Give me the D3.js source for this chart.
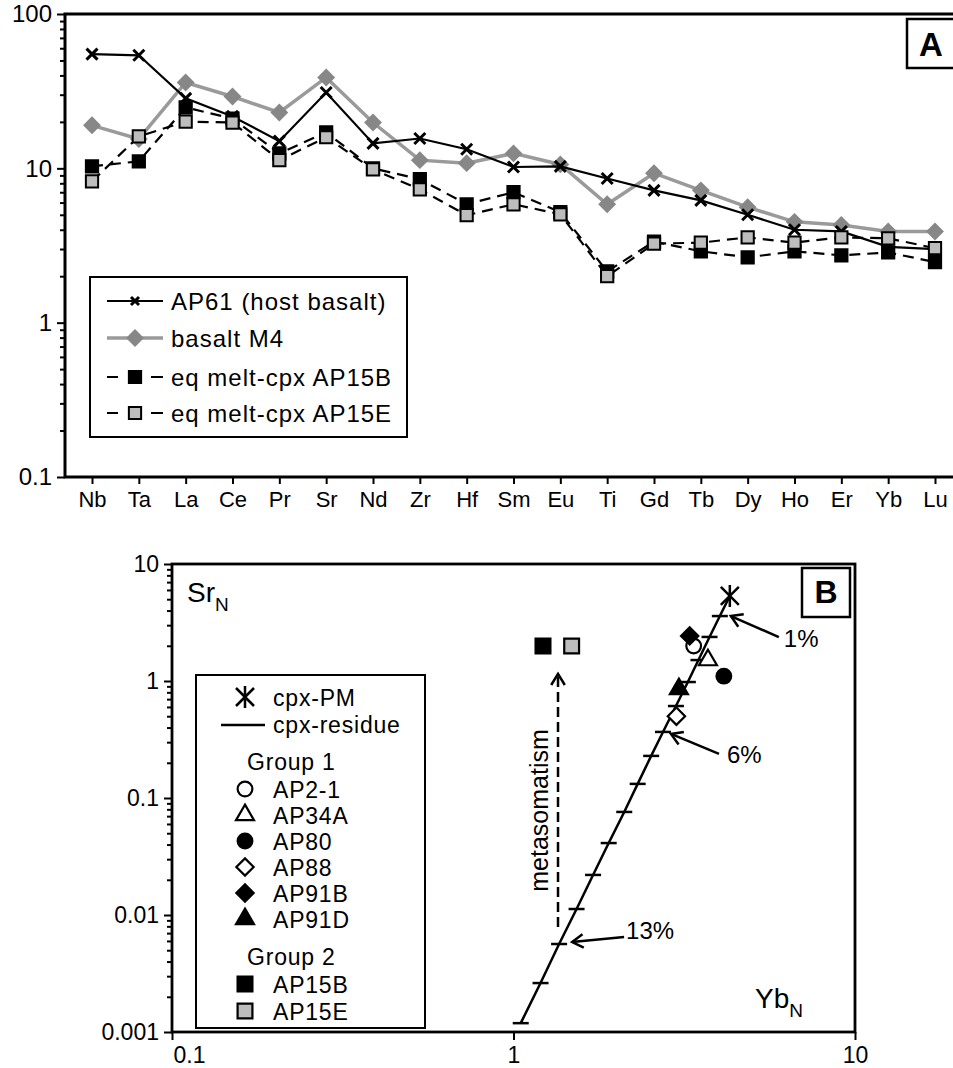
<html>
<script src="https://d3js.org/d3.v7.min.js"></script>
<style>
body {margin: 0; background: #fff;}
svg text {font-family: "Liberation Sans", Arial, sans-serif; fill: #000;}
</style>
<body>
<svg id="chart" width="953" height="1068"></svg>
<script>
//panel A data (normalised concentrations)
var elements = ["Nb","Ta","La","Ce","Pr","Sr","Nd","Zr","Hf","Sm","Eu","Ti","Gd","Tb","Dy","Ho","Er","Yb","Lu"];
var ap61     = [55, 54, 28.4, 21.7, 15, 31, 14.5, 15.6, 13.3, 10.2, 10.3, 8.6, 7.2, 6.2, 5.0, 4.0, 3.9, 3.1, 3.0];
var basaltM4 = [19, 15.5, 36, 29.2, 23, 38.8, 19.8, 11.3, 10.8, 12.5, 10.6, 5.85, 9.3, 7.2, 5.6, 4.5, 4.3, 3.9, 3.9];
var ap15b    = [10.3, 11.1, 24.8, 21, 12.5, 17.1, 10, 8.5, 5.85, 7.0, 5.2, 2.15, 3.35, 2.9, 2.65, 2.9, 2.73, 2.85, 2.47];
var ap15e    = [8.24, 16.1, 20.1, 19.8, 11.3, 15.9, 9.85, 7.3, 4.97, 5.85, 5.04, 2.0, 3.25, 3.3, 3.57, 3.3, 3.57, 3.52, 3.04];
var seriesNamesA = ["AP61 (host basalt)", "basalt M4", "eq melt-cpx AP15B", "eq melt-cpx AP15E"];
var yTicksA = [0.1, 1, 10, 100];

//panel B data
var cpxPM = {yb: 4.30, sr: 5.33};
var residueF  = [0, 1, 2, 3, 4, 5, 6, 7, 8, 9, 10, 11, 12, 13, 14, 15];
var residueYb = [4.30, 4.02, 3.75, 3.48, 3.24, 2.99, 2.74, 2.53, 2.31, 2.11, 1.90, 1.71, 1.53, 1.36, 1.20, 1.05];
var residueSr = [5.33, 3.59, 2.38, 1.51, 0.98, 0.611, 0.367, 0.229, 0.132, 0.076, 0.0412, 0.022, 0.01125, 0.00565, 0.00262, 0.00119];
var samples   = ["AP2-1", "AP34A", "AP80", "AP88", "AP91B", "AP91D", "AP15B", "AP15E"];
var sampleYb  = [3.37, 3.71, 4.13, 3.0, 3.28, 3.05, 1.22, 1.48];
var sampleSr  = [1.99, 1.51, 1.10, 0.50, 2.43, 0.855, 1.99, 1.99];
var sampleGroup = [1, 1, 1, 1, 1, 1, 2, 2];
var meltLabels = ["1%", "6%", "13%"];
var meltSteps  = [1, 6, 13];
var metaYb = 1.35, metaSr = [0.0079, 1.15];
var xTicksB = [0.1, 1, 10];
var yTicksB = [0.001, 0.01, 0.1, 1, 10];

var svg = d3.select("#chart");

function minorTicks(majors) {
    var out = [];
    majors.slice(0, -1).forEach(function(m) {
        for (var k = 2; k < 10; k++) out.push(m * k);
    });
    return out;
}

function arrow(g, x1, y1, x2, y2, dash) {
    var a = Math.atan2(y2 - y1, x2 - x1), h = 13, s = 0.55;
    g.append("line").attr("x1", x1).attr("y1", y1).attr("x2", x2).attr("y2", y2)
        .attr("stroke", "black").attr("stroke-width", 2.5)
        .attr("stroke-dasharray", dash || null);
    g.append("path")
        .attr("d", "M" + (x2 - h * Math.cos(a - s)) + "," + (y2 - h * Math.sin(a - s)) +
            "L" + x2 + "," + y2 + "L" + (x2 - h * Math.cos(a + s)) + "," + (y2 - h * Math.sin(a + s)))
        .attr("fill", "none").attr("stroke", "black").attr("stroke-width", 2.5);
}

// marker shapes
var shapes = {
    circle:   d3.symbol().type(d3.symbolCircle).size(170)(),
    triangle: d3.symbol().type(d3.symbolTriangle).size(140)(),
    square:   d3.symbol().type(d3.symbolSquare).size(220)(),
    diamond:  d3.symbol().type(d3.symbolSquare).size(150)(),
    squareA:  d3.symbol().type(d3.symbolSquare).size(150)(),
    diamondA: d3.symbol().type(d3.symbolSquare).size(160)()
};
var sampleStyle = [
    {shape: "circle", fill: "white"},
    {shape: "triangle", fill: "white"},
    {shape: "circle", fill: "black"},
    {shape: "diamond", fill: "white"},
    {shape: "diamond", fill: "black"},
    {shape: "triangle", fill: "black"},
    {shape: "square", fill: "black"},
    {shape: "square", fill: "#bdbdbd"}
];

function marker(g, st, x, y) {
    var p = g.append("path").attr("d", shapes[st.shape])
        .attr("fill", st.fill).attr("stroke", "black").attr("stroke-width", 2.2);
    var t = "translate(" + x + "," + y + ")";
    if (st.shape == "diamond") t += " rotate(45)";
    p.attr("transform", t);
}

function cross(g, x, y, r) {
    g.append("path").attr("d", "M" + (x - r) + "," + (y - r) + "L" + (x + r) + "," + (y + r) +
            "M" + (x - r) + "," + (y + r) + "L" + (x + r) + "," + (y - r))
        .attr("stroke", "black").attr("stroke-width", 3).attr("fill", "none");
}

function asterisk(g, x, y) {
    g.append("path").attr("d", "M" + (x - 9) + "," + (y - 9) + "L" + (x + 9) + "," + (y + 9) +
            "M" + (x - 9) + "," + (y + 9) + "L" + (x + 9) + "," + (y - 9) +
            "M" + x + "," + (y - 11) + "L" + x + "," + (y + 11))
        .attr("stroke", "black").attr("stroke-width", 2.5).attr("fill", "none");
}

function styleAxis(ax, size) {
    ax.select(".domain").remove();
    ax.selectAll("line").attr("stroke", "black").attr("stroke-width", 2);
    ax.selectAll("text").style("font-size", size + "px").attr("fill", "black");
}

// ================= PANEL A =================
var A = {left: 65, right: 953, top: 14, bottom: 477};
var xA = d3.scalePoint().domain(elements).range([92, 935]);
var yA = d3.scaleLog().domain([0.1, 100]).range([A.bottom, A.top]);
var gA = svg.append("g");

//axes
styleAxis(gA.append("g").attr("transform", "translate(" + A.left + ",0)")
    .call(d3.axisLeft(yA).tickValues(minorTicks(yTicksA)).tickSize(5).tickFormat("")), 22);
styleAxis(gA.append("g").attr("transform", "translate(" + A.left + ",0)")
    .call(d3.axisLeft(yA).tickValues(yTicksA).tickSize(8).tickPadding(5).tickFormat(d3.format("~g"))), 24);
styleAxis(gA.append("g").attr("transform", "translate(0," + A.bottom + ")")
    .call(d3.axisBottom(xA).tickSize(7).tickPadding(7)), 22);

gA.append("path")
    .attr("d", "M" + A.right + "," + A.top + "H" + A.left + "V" + A.bottom + "H" + A.right)
    .attr("fill", "none").attr("stroke", "black").attr("stroke-width", 3);

//lines
function rows(vals) { return elements.map(function(e, i) { return {el: e, v: vals[i]}; }); }
var lineA = d3.line().x(function(d) { return xA(d.el); }).y(function(d) { return yA(d.v); });

gA.append("path").datum(rows(basaltM4)).attr("d", lineA)
    .attr("fill", "none").attr("stroke", "#9a9a9a").attr("stroke-width", 3.5);
rows(basaltM4).forEach(function(d) {
    gA.append("path").attr("d", shapes.diamondA).attr("fill", "#878787")
        .attr("transform", "translate(" + xA(d.el) + "," + yA(d.v) + ") rotate(45)");
});

gA.append("path").datum(rows(ap61)).attr("d", lineA)
    .attr("fill", "none").attr("stroke", "black").attr("stroke-width", 2.2);
rows(ap61).forEach(function(d) { cross(gA, xA(d.el), yA(d.v), 5.5); });

[[ap15b, "black"], [ap15e, "#bdbdbd"]].forEach(function(s) {
    gA.append("path").datum(rows(s[0])).attr("d", lineA)
        .attr("fill", "none").attr("stroke", "black").attr("stroke-width", 2.2)
        .attr("stroke-dasharray", "11,7");
    rows(s[0]).forEach(function(d) {
        gA.append("path").attr("d", shapes.squareA).attr("fill", s[1])
            .attr("stroke", "black").attr("stroke-width", 2)
            .attr("transform", "translate(" + xA(d.el) + "," + yA(d.v) + ")");
    });
});

//legend A
var lgA = gA.append("g");
lgA.append("rect").attr("x", 90).attr("y", 277).attr("width", 317).attr("height", 160)
    .attr("fill", "white").attr("stroke", "black").attr("stroke-width", 2);
var legY = [301, 338, 377, 413];
lgA.append("line").attr("x1", 107).attr("x2", 163).attr("y1", legY[0]).attr("y2", legY[0])
    .attr("stroke", "black").attr("stroke-width", 2.2);
cross(lgA, 135, legY[0], 4);
lgA.append("line").attr("x1", 107).attr("x2", 163).attr("y1", legY[1]).attr("y2", legY[1])
    .attr("stroke", "#9a9a9a").attr("stroke-width", 3.5);
lgA.append("path").attr("d", shapes.diamondA).attr("fill", "#878787")
    .attr("transform", "translate(135," + legY[1] + ") rotate(45)");
[[legY[2], "black"], [legY[3], "#bdbdbd"]].forEach(function(r) {
    lgA.append("path").attr("d", "M107," + r[0] + "H118M151," + r[0] + "H163")
        .attr("stroke", "black").attr("stroke-width", 2.2);
    lgA.append("path").attr("d", shapes.squareA).attr("fill", r[1])
        .attr("stroke", "black").attr("stroke-width", 2)
        .attr("transform", "translate(135," + r[0] + ")");
});
seriesNamesA.forEach(function(n, i) {
    lgA.append("text").attr("x", 171).attr("y", legY[i] + 9)
        .style("font-size", "24px").style("letter-spacing", "1px").text(n);
});

//panel label
gA.append("rect").attr("x", 907).attr("y", 19).attr("width", 52).attr("height", 49)
    .attr("fill", "white").attr("stroke", "black").attr("stroke-width", 2.5);
gA.append("text").attr("x", 931).attr("y", 56).attr("text-anchor", "middle")
    .style("font-size", "33px").style("font-weight", "bold").text("A");

// ================= PANEL B =================
var B = {left: 172, right: 855, top: 564, bottom: 1032};
var xB = d3.scaleLog().domain([0.1, 10]).range([B.left, B.right]);
var yB = d3.scaleLog().domain([0.001, 10]).range([B.bottom, B.top]);
var gB = svg.append("g");

styleAxis(gB.append("g").attr("transform", "translate(" + B.left + ",0)")
    .call(d3.axisLeft(yB).tickValues(minorTicks(yTicksB)).tickSize(5).tickFormat("")), 22);
styleAxis(gB.append("g").attr("transform", "translate(" + B.left + ",0)")
    .call(d3.axisLeft(yB).tickValues(yTicksB).tickSize(8).tickPadding(5).tickFormat(d3.format("~g"))), 23);
var axBx = gB.append("g").attr("transform", "translate(0," + B.bottom + ")")
    .call(d3.axisBottom(xB).tickValues(xTicksB).tickSize(8).tickPadding(7).tickFormat(d3.format("~g")));
styleAxis(axBx, 23);
axBx.select(".tick text").attr("text-anchor", "start").attr("x", 1);

gB.append("rect").attr("x", B.left).attr("y", B.top)
    .attr("width", B.right - B.left).attr("height", B.bottom - B.top)
    .attr("fill", "none").attr("stroke", "black").attr("stroke-width", 2.8);

//axis titles inside the plot
var sr = gB.append("text").attr("x", 187).attr("y", 602).style("font-size", "28px");
sr.append("tspan").text("Sr");
sr.append("tspan").attr("dy", 9).style("font-size", "19px").text("N");
var yb = gB.append("text").attr("x", 755).attr("y", 1008).style("font-size", "28px");
yb.append("tspan").text("Yb");
yb.append("tspan").attr("dy", 9).style("font-size", "19px").text("N");

//cpx residue curve
var resRows = residueF.map(function(f, i) { return {f: f, yb: residueYb[i], sr: residueSr[i]}; });
gB.append("path").datum(resRows)
    .attr("d", d3.line().x(function(d) { return xB(d.yb); }).y(function(d) { return yB(d.sr); }))
    .attr("fill", "none").attr("stroke", "black").attr("stroke-width", 2.5);
resRows.slice(1).forEach(function(d) {
    gB.append("line").attr("x1", xB(d.yb) - 8).attr("x2", xB(d.yb) + 8)
        .attr("y1", yB(d.sr)).attr("y2", yB(d.sr))
        .attr("stroke", "black").attr("stroke-width", 2.5);
});

//melting degree annotations
var meltOff = [{tx: 11, ty: 0, lx: 48, ly: 21, px: 5, py: 10},
               {tx: 8, ty: 2, lx: 48, ly: 20, px: 8, py: 9},
               {tx: 13, ty: -2, lx: 52, ly: -5, px: 2, py: 2}];
meltSteps.forEach(function(f, i) {
    var d = resRows[f], o = meltOff[i];
    var tipX = xB(d.yb) + o.tx, tipY = yB(d.sr) + o.ty;
    arrow(gB, tipX + o.lx, tipY + o.ly, tipX, tipY);
    gB.append("text").attr("x", tipX + o.lx + o.px).attr("y", tipY + o.ly + o.py)
        .style("font-size", "24px").text(meltLabels[i]);
});

//metasomatism arrow
arrow(gB, xB(metaYb), yB(metaSr[0]), xB(metaYb), yB(metaSr[1]), "10,5");
gB.append("text")
    .attr("transform", "translate(" + (xB(metaYb) - 10) + "," + ((yB(metaSr[0]) + yB(metaSr[1])) / 2 + 10) + ") rotate(-90)")
    .attr("text-anchor", "middle").style("font-size", "25px").text("metasomatism");

//samples
samples.forEach(function(s, i) {
    marker(gB, sampleStyle[i], xB(sampleYb[i]), yB(sampleSr[i]));
});
asterisk(gB, xB(cpxPM.yb), yB(cpxPM.sr));

//panel label
gB.append("rect").attr("x", 802).attr("y", 568).attr("width", 48).attr("height", 49)
    .attr("fill", "white").attr("stroke", "black").attr("stroke-width", 2.5);
gB.append("text").attr("x", 826).attr("y", 603).attr("text-anchor", "middle")
    .style("font-size", "32px").style("font-weight", "bold").text("B");

//legend B
var lgB = gB.append("g");
lgB.append("rect").attr("x", 196).attr("y", 675).attr("width", 229).attr("height", 353)
    .attr("fill", "white").attr("stroke", "black").attr("stroke-width", 2);
function legText(x, y, s) {
    return lgB.append("text").attr("x", x).attr("y", y)
        .style("font-size", "23px").style("letter-spacing", "0.8px").text(s);
}
asterisk(lgB, 245, 697);
legText(273, 706, "cpx-PM");
lgB.append("line").attr("x1", 221).attr("x2", 265).attr("y1", 725).attr("y2", 725)
    .attr("stroke", "black").attr("stroke-width", 2.5);
legText(273, 733, "cpx-residue");
legText(247, 770, "Group 1");
legText(247, 965, "Group 2");
var legBaseB = [798, 824, 850, 876, 902, 928, 993, 1020];
samples.forEach(function(s, i) {
    marker(lgB, sampleStyle[i], 245, legBaseB[i] - 9);
    legText(273, legBaseB[i], s);
});
</script>
</body>
</html>
